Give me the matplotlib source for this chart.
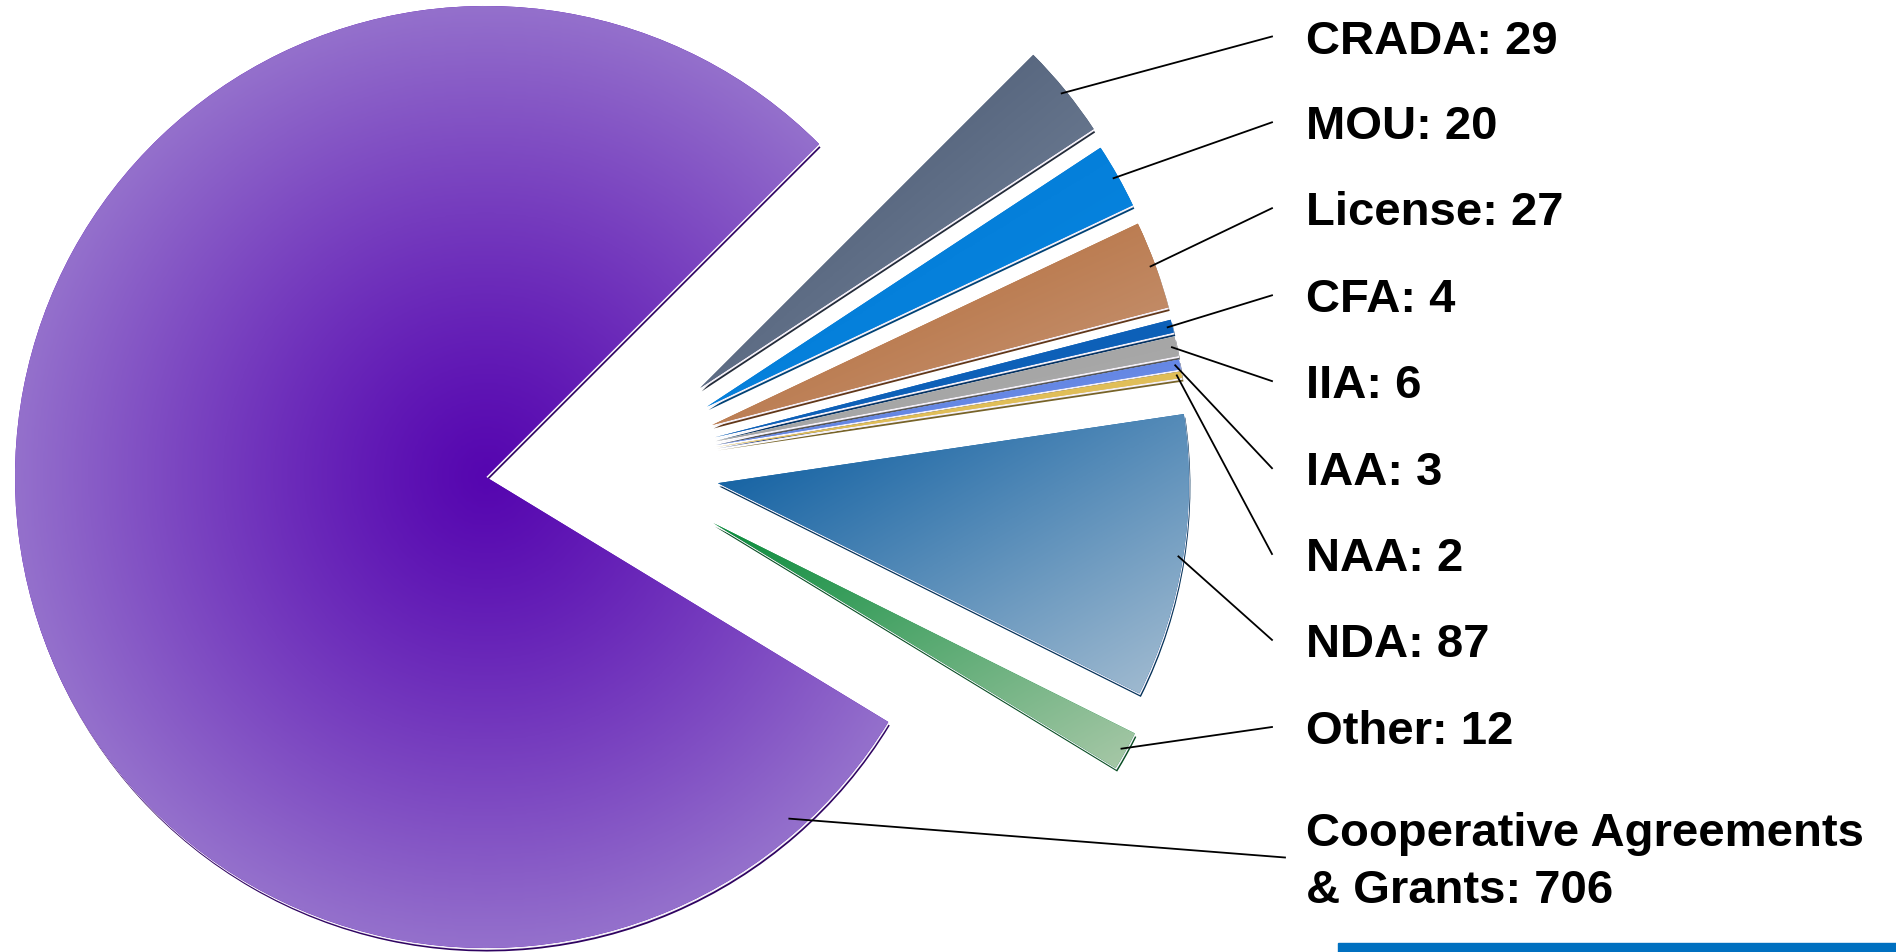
import numpy as np
import matplotlib.pyplot as plt
from matplotlib.patches import Wedge, Rectangle
from matplotlib.colors import LinearSegmentedColormap, to_rgb

plt.rcParams['font.family'] = ['Liberation Sans', 'DejaVu Sans']

# ----------------------------------------
# Data
# ----------------------------------------
labels = ['CRADA', 'MOU', 'License', 'CFA', 'IIA', 'IAA', 'NAA', 'NDA', 'Other',
          'Cooperative Agreements\n& Grants']
counts = [29, 20, 27, 4, 6, 3, 2, 87, 12, 706]

# gradient start / end colour of every slice
colors_dark = ['#3f4e68', '#0078d4', '#b0642e', '#0a5cb4', '#9c9c9c',
               '#5b7fe0', '#d8b448', '#04589e', '#0a8c3c', '#5606b0']
colors_light = ['#7d8ca2', '#0a88e2', '#c99a7c', '#1064bc', '#b0b0b0',
                '#7090e8', '#e8c868', '#a6bed2', '#a8c8a8', '#9470cc']

# ----------------------------------------
# Figure in pixel units
# ----------------------------------------
W, H = 1896, 953
fig = plt.figure(figsize=(W / 100, H / 100), dpi=100)
ax = fig.add_axes([0, 0, 1, 1])

cx, cy, R = 486, 475, 471
wedges, _ = ax.pie(counts, startangle=45, counterclock=False, radius=R,
                   center=(cx, cy), colors=colors_dark,
                   wedgeprops=dict(linewidth=0, zorder=2))

# pull the small slices out to the right
D = 232
for w in wedges[:-1]:
    mid = (w.theta1 + w.theta2) / 2
    a = np.deg2rad(0.5 * mid + 3)
    w.set_center((cx + D * np.cos(a), cy + D * np.sin(a)))


def shade(c, f):
    r, g, b = to_rgb(c)
    return (r * f, g * f, b * f)


# thin bevelled rim under each slice
for w, c in zip(wedges, colors_dark):
    x, y = w.center
    ax.add_patch(Wedge((x + 1.5, y - 3.5), w.r, w.theta1, w.theta2,
                       color=shade(c, 0.55), lw=0, zorder=1))
    ax.add_patch(Wedge((x + 0.8, y - 1.8), w.r, w.theta1, w.theta2,
                       color='#f4f0f8', lw=0, zorder=1.5))


def fill_gradient(w, c0, c1, radial=False):
    v = w.get_path().vertices
    x0, y0 = v.min(0)
    x1, y1 = v.max(0)
    X, Y = np.meshgrid(np.linspace(x0, x1, 300), np.linspace(y0, y1, 300))
    if radial:
        t = np.clip(np.hypot(X - w.center[0], Y - w.center[1]) / w.r, 0, 1) ** 1.2
    else:
        t = ((X - x0) / (x1 - x0) + (y1 - Y) / (y1 - y0)) / 2
    cmap = LinearSegmentedColormap.from_list('g', [c0, c1])
    im = ax.imshow(t, extent=[x0, x1, y0, y1], origin='lower', cmap=cmap,
                   vmin=0, vmax=1, zorder=3, interpolation='bilinear',
                   aspect='auto')
    im.set_clip_path(w)


for i, w in enumerate(wedges):
    fill_gradient(w, colors_dark[i], colors_light[i], radial=(i == len(wedges) - 1))

# ----------------------------------------
# Labels and leader lines
# ----------------------------------------
label_x = 1306
label_y = [915.5, 829.7, 743.8, 656.7, 570.9, 483.8, 398.0, 312.1, 225.0, 94.5]
line_x = [1272] * 9 + [1285]

for i, w in enumerate(wedges):
    if i == len(wedges) - 1:
        a = np.deg2rad(-48.4)
        rr = 0.97 * w.r
    else:
        a = np.deg2rad((w.theta1 + w.theta2) / 2)
        rr = 0.99 * w.r
    sx = w.center[0] + rr * np.cos(a)
    sy = w.center[1] + rr * np.sin(a)
    ax.plot([sx, line_x[i]], [sy, label_y[i]], color='black', lw=1.3, zorder=5)
    ax.text(label_x, label_y[i] - 4, f'{labels[i]}: {counts[i]}', fontsize=34,
            fontweight='bold', ha='left', va='center', linespacing=1.37,
            color='black', zorder=6)

# slide accent bar
fig.patches.append(Rectangle((1338 / W, 0), 1 - 1338 / W, 9 / H,
                             transform=fig.transFigure, color='#0070c0'))

ax.set_xlim(0, W)
ax.set_ylim(0, H)
ax.set_aspect('equal')
ax.axis('off')

plt.savefig('out.png', dpi=100)
